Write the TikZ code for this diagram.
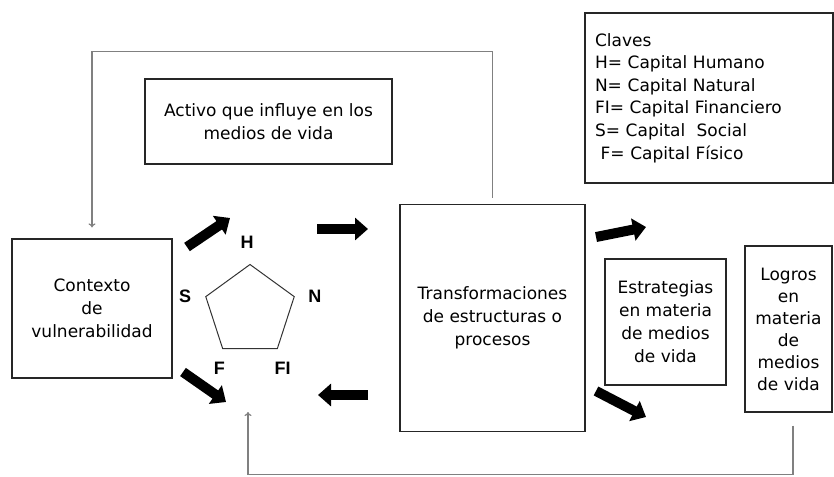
\documentclass[tikz,border=0pt]{standalone}
\usepackage{fontspec}
\setmainfont{DejaVu Sans}
\newfontfamily\keyfont{Liberation Sans}
\usetikzlibrary{shapes.geometric,arrows.meta,calc}

\begin{document}
\begin{tikzpicture}[x=1pt,y=-1pt]
    \tikzstyle{box} = [rectangle, draw=black!85, line width=1.2pt, align=center, inner sep=0pt, font=\fontsize{17}{23}\selectfont]
    \tikzstyle{bigarrow} = [line width=10pt, -{Triangle[length=13pt,width=22pt]}]
    \tikzstyle{feedback} = [draw=black!50, line width=1.2pt, -{To[length=4pt,width=7pt]}]
    \tikzstyle{capital} = [font=\keyfont\bfseries\fontsize{18}{20}\selectfont]

    \useasboundingbox (0,0) rectangle (834,476);

    \node (activo) [box, minimum width=247pt, minimum height=85pt] at (268.5,121.5) {Activo que influye en los\\medios de vida};
    \node (claves) [box, minimum width=248pt, minimum height=170pt, text width=228pt, align=left, font=\fontsize{17}{22.6}\selectfont] at (709,98) {Claves\\H= Capital Humano\\N= Capital Natural\\FI= Capital Financiero\\S= Capital\ \ Social\\\ F= Capital Físico};
    \node (ctx) [box, minimum width=160pt, minimum height=139pt] at (92,308.5) {Contexto\\de\\vulnerabilidad};
    \node (trans) [box, minimum width=185pt, minimum height=227pt] at (492.5,318) {Transformaciones\\de estructuras o\\procesos};
    \node (estrat) [box, minimum width=121pt, minimum height=126pt] at (665.5,322) {Estrategias\\en materia\\de medios\\de vida};
    \node (logros) [box, minimum width=87pt, minimum height=166pt, font=\fontsize{17}{22}\selectfont] at (788.5,329) {Logros\\en\\materia\\de\\medios\\de vida};

    % pentagono de activos
    \node (pent) [regular polygon, regular polygon sides=5, minimum size=93pt, draw=black!80, line width=1pt] at (250,311) {};
    \node (h) [capital] at ([xshift=-3pt,yshift=22pt]pent.corner 1) {H};
    \node (s) [capital] at ([xshift=-20pt]pent.corner 2) {S};
    \node (n) [capital] at ([xshift=20pt]pent.corner 5) {N};
    \node (f) [capital] at ([xshift=-3pt,yshift=-19pt]pent.corner 3) {F};
    \node (fi) [capital] at ([xshift=5pt,yshift=-19pt]pent.corner 4) {FI};

    % flechas gruesas
    \coordinate (ctxup) at (187,247);   \coordinate (ctxuptip) at (230,218);
    \coordinate (tostr) at (317,229);   \coordinate (tostrtip) at (368,229);
    \coordinate (ctxdn) at (183,372);   \coordinate (ctxdntip) at (226,402);
    \coordinate (fromstr) at (368,395); \coordinate (fromstrtip) at (318,395);
    \coordinate (toest) at (596,237);   \coordinate (toesttip) at (646,227);
    \coordinate (tolog) at (596,391);   \coordinate (tologtip) at (646,417);
    \coordinate (assettip) at (248,412);

    \draw [bigarrow] (ctxup) -- (ctxuptip);
    \draw [bigarrow] (tostr) -- (tostrtip);
    \draw [bigarrow] (ctxdn) -- (ctxdntip);
    \draw [bigarrow] (fromstr) -- (fromstrtip);
    \draw [bigarrow] (toest) -- (toesttip);
    \draw [bigarrow] (tolog) -- (tologtip);

    % retroalimentacion
    \draw [feedback] ([yshift=6pt]trans.north) -- ++(0,-146) -| ([yshift=11pt]ctx.north);
    \draw [feedback] ([xshift=4.5pt,yshift=-13pt]logros.south) -- ++(0,49) -| (assettip);
\end{tikzpicture}
\end{document}
